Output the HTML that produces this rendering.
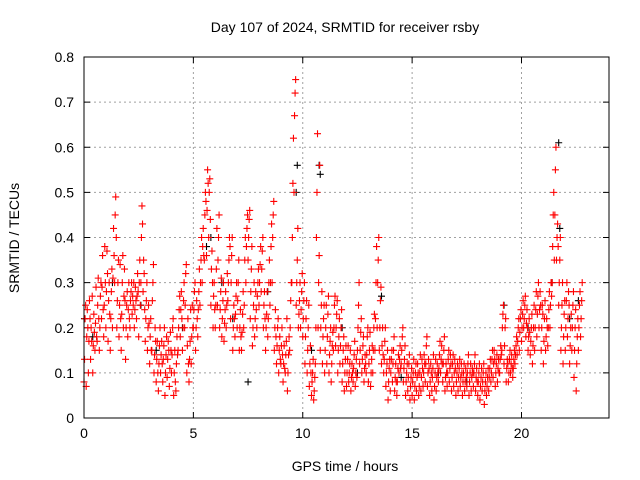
<!DOCTYPE html>
<html><head><meta charset="utf-8"><style>
body{margin:0;background:#fff}
svg{display:block;font-family:"Liberation Sans",sans-serif}
</style></head><body>
<svg id="c" width="640" height="480">
<text x="345" y="32" font-size="14" text-anchor="middle">Day 107 of 2024, SRMTID for receiver rsby</text>
<text x="345" y="471" font-size="14" text-anchor="middle">GPS time / hours</text>
<text transform="translate(19,238) rotate(-90)" font-size="14" text-anchor="middle">SRMTID / TECUs</text>
<g id="grid"></g><g id="axes"></g><g id="black"></g><g id="red"></g>
<rect x="84" y="57" width="525" height="361" fill="none" stroke="#000" stroke-width="1"/>
</svg>
<script>
const xTicks=[0,5,10,15,20];
const yTicks=[0,0.1,0.2,0.3,0.4,0.5,0.6,0.7,0.8];
const yTickLabels=["0","0.1","0.2","0.3","0.4","0.5","0.6","0.7","0.8"];
const slotStart=0.0, slotWidth=0.1;
const redSlots=[
[.08,.13,.22,.25],[.07,.18,.24,.2],[.1,.17,.26,.22],[.13,.2,.17,.27],[.1,.16,.23,.19],[.15,.21,.29,.18],[.17,.25,.31,.22],[.15,.2,.27,.3],[.22,.29,.36,.24],[.18,.25,.38,.3],
[.2,.28,.37,.32],[.17,.26,.3,.23],[.15,.22,.28,.33],[.2,.31,.42,.36],[.3,.45,.49,.4],[.2,.26,.3,.35],[.18,.25,.34,.22],[.15,.23,.3,.36],[.2,.27,.33,.26],[.13,.2,.25,.28],
[.18,.24,.3,.22],[.2,.26,.28,.3],[.23,.27,.25,.3],[.2,.24,.29,.26],[.22,.27,.32,.28],[.18,.3,.35,.25],[.3,.4,.47,.43],[.28,.35,.32,.24],[.17,.22,.26,.3],[.15,.2,.25,.21],
[.12,.18,.22,.15],[.15,.26,.3,.34],[.1,.14,.2,.17],[.08,.13,.17,.1],[.06,.12,.16,.2],[.1,.14,.17,.12],[.08,.13,.16,.2],[.05,.1,.14,.18],[.09,.13,.17,.15],[.07,.11,.19,.15],
[.1,.14,.2,.22],[.05,.1,.15,.08],[.06,.12,.18,.14],[.15,.2,.24,.27],[.18,.24,.28,.22],[.15,.2,.26,.3],[.2,.25,.32,.34],[.1,.16,.22,.12],[.08,.13,.17,.24],[.12,.18,.25,.2],
[.2,.24,.28,.3],[.15,.2,.26,.22],[.18,.24,.28,.33],[.25,.3,.35,.4],[.3,.38,.42,.36],[.35,.45,.5,.48],[.36,.46,.55,.52],[.4,.5,.53,.44],[.25,.33,.37,.3],[.2,.27,.3,.24],
[.2,.25,.33,.42],[.25,.35,.4,.45],[.2,.24,.28,.31],[.18,.22,.26,.3],[.17,.21,.24,.28],[.2,.25,.32,.26],[.3,.35,.4,.38],[.22,.3,.36,.4],[.15,.2,.25,.22],[.18,.23,.27,.3],
[.2,.26,.3,.35],[.15,.2,.24,.18],[.15,.19,.23,.28],[.2,.25,.35,.4],[.3,.38,.42,.45],[.35,.4,.44,.46],[.22,.28,.33,.38],[.16,.2,.25,.3],[.18,.22,.28,.24],[.2,.27,.3,.33],
[.25,.3,.34,.38],[.28,.33,.37,.4],[.2,.25,.28,.22],[.15,.2,.23,.28],[.18,.22,.3,.35],[.25,.3,.38,.43],[.3,.4,.45,.48],[.15,.2,.24,.18],[.12,.16,.2,.22],[.1,.15,.18,.13],
[.12,.16,.2,.14],[.08,.12,.16,.11],[.1,.14,.17,.22],[.06,.1,.14,.18],[.15,.2,.26,.3],[.3,.4,.52,.62],[.5,.67,.72,.75],[.25,.3,.35,.42],[.2,.23,.26,.3],[.2,.24,.28,.32],
[.18,.22,.26,.3],[.12,.18,.22,.26],[.1,.15,.2,.25],[.07,.12,.16,.1],[.05,.08,.1,.13],[.04,.06,.09,.12],[.2,.4,.5,.63],[.2,.3,.36,.56],[.15,.2,.25,.28],[.12,.18,.22,.25],
[.1,.15,.2,.25],[.12,.18,.23,.27],[.1,.14,.17,.2],[.08,.12,.16,.19],[.15,.2,.25,.27],[.16,.2,.23,.26],[.1,.15,.18,.22],[.12,.16,.2,.24],[.08,.12,.15,.18],[.06,.1,.13,.16],
[.07,.1,.13,.16],[.08,.1,.12,.15],[.06,.09,.12,.1],[.08,.11,.14,.17],[.07,.1,.13,.09],[.15,.2,.25,.3],[.12,.15,.19,.22],[.1,.13,.16,.18],[.08,.11,.14,.12],[.1,.14,.18,.2],
[.08,.12,.15,.19],[.07,.1,.13,.16],[.1,.15,.2,.23],[.15,.22,.3,.38],[.2,.3,.35,.4],[.15,.2,.26,.29],[.12,.16,.2,.14],[.1,.13,.17,.2],[.07,.1,.12,.15],[.04,.08,.11,.13],
[.06,.1,.13,.15],[.08,.12,.15,.18],[.06,.09,.12,.08],[.05,.08,.11,.14],[.1,.13,.16,.11],[.12,.15,.18,.2],[.08,.11,.13,.16],[.05,.08,.1,.12],[.06,.09,.12,.14],[.04,.07,.09,.11],
[.05,.08,.1,.13],[.04,.07,.1,.12],[.06,.09,.12,.1],[.05,.07,.1,.14],[.06,.09,.13,.11],[.07,.1,.14,.12],[.08,.12,.16,.18],[.07,.1,.13,.11],[.05,.08,.12,.1],[.06,.09,.11,.14],
[.04,.07,.1,.13],[.06,.09,.12,.1],[.08,.11,.14,.17],[.1,.13,.16,.12],[.08,.12,.15,.18],[.06,.09,.12,.1],[.07,.1,.13,.15],[.08,.11,.14,.12],[.06,.09,.12,.14],[.07,.1,.13,.11],
[.05,.08,.1,.12],[.06,.09,.11,.13],[.07,.09,.12,.1],[.05,.08,.1,.12],[.06,.08,.11,.09],[.07,.1,.12,.14],[.05,.08,.1,.12],[.06,.09,.11,.1],[.07,.1,.12,.14],[.06,.09,.11,.08],
[.05,.08,.1,.12],[.04,.07,.09,.11],[.06,.08,.1,.12],[.03,.06,.08,.1],[.05,.07,.09,.11],[.06,.09,.11,.13],[.08,.1,.13,.15],[.09,.12,.15,.13],[.07,.1,.12,.14],[.08,.11,.13,.1],
[.1,.13,.16,.14],[.15,.2,.23,.25],[.12,.16,.2,.22],[.08,.11,.13,.12],[.08,.1,.13,.15],[.1,.12,.14,.11],[.09,.11,.13,.15],[.12,.14,.16,.18],[.14,.17,.2,.22],[.15,.19,.22,.24],
[.17,.2,.23,.26],[.2,.22,.25,.27],[.18,.21,.24,.2],[.15,.18,.22,.19],[.14,.17,.2,.23],[.12,.16,.2,.25],[.15,.2,.24,.28],[.18,.23,.27,.3],[.2,.24,.28,.25],[.15,.2,.25,.23],
[.12,.17,.22,.26],[.15,.18,.22,.2],[.16,.2,.24,.28],[.2,.25,.3,.27],[.3,.38,.45,.5],[.35,.45,.55,.6],[.35,.4,.43,.38],[.25,.3,.35,.4],[.15,.2,.25,.3],[.12,.18,.23,.26],
[.15,.2,.26,.3],[.18,.22,.28,.25],[.12,.16,.2,.23],[.15,.2,.25,.28],[.09,.15,.2,.24],[.06,.12,.18,.22],[.15,.2,.25,.28],[.18,.22,.26,.3]
];
const blackHours=[0.02,0.4,1.3,2.6,3.3,4.5,5.6,5.8,6.3,6.8,7.5,8.4,9.7,9.75,10.4,10.75,10.8,11.8,12.5,13.6,14.5,16.2,17.5,19.2,20.3,21.4,21.7,21.75,22.2,22.6];
const blackVals=[0.22,0.18,0.3,0.25,0.15,0.2,0.38,0.4,0.3,0.22,0.08,0.28,0.5,0.56,0.15,0.56,0.54,0.2,0.1,0.27,0.09,0.1,0.08,0.25,0.2,0.3,0.61,0.42,0.22,0.26];
const X0=84,X1=609,Y0=418,Y1=57,XMAX=24,YMAX=0.8;
const sx=h=>X0+h/XMAX*(X1-X0), sy=v=>Y0-v/YMAX*(Y0-Y1);
const NS="http://www.w3.org/2000/svg";
const grid=document.getElementById('grid'),axes=document.getElementById('axes');
function mk(tag,attrs,parent){const e=document.createElementNS(NS,tag);for(const k in attrs)e.setAttribute(k,attrs[k]);parent.appendChild(e);return e;}
xTicks.forEach(t=>{const x=sx(t);
 if(t>0){const g=mk('line',{x1:x,x2:x,y1:Y1,y2:Y0,stroke:'#a0a0a0','stroke-dasharray':'2,3'},grid);
 
 }
 mk('line',{x1:x,x2:x,y1:Y0,y2:Y0-6,stroke:'#000'},axes);mk('line',{x1:x,x2:x,y1:Y1,y2:Y1+6,stroke:'#000'},axes);
 const l=mk('text',{x:x,y:Y0+20,'font-size':14,'text-anchor':'middle'},axes);l.textContent=t;
 
 });
yTicks.forEach((t,i)=>{const y=sy(t);
 if(t>0&&t<YMAX){const g=mk('line',{x1:X0,x2:X1,y1:y,y2:y,stroke:'#a0a0a0','stroke-dasharray':'2,3'},grid);
 
 }
 mk('line',{x1:X0,x2:X0+6,y1:y,y2:y,stroke:'#000'},axes);mk('line',{x1:X1,x2:X1-6,y1:y,y2:y,stroke:'#000'},axes);
 const l=mk('text',{x:X0-10,y:y+5,'font-size':14,'text-anchor':'end'},axes);l.textContent=yTickLabels[i];
 
 });
function plus(h,v,col,parent){const x=sx(h),y=sy(v);
 const p=mk('path',{d:`M${x-3.5},${y}h7M${x},${y-3.5}v7`,stroke:col,'stroke-width':1.1,fill:'none'},parent);
 
 }
const bg=document.getElementById('black');
blackHours.forEach((h,i)=>plus(h,blackVals[i],'#000',bg));
const rg=document.getElementById('red');
redSlots.forEach((vals,i)=>{vals.forEach((v,j)=>{plus(slotStart+i*slotWidth+j*slotWidth/vals.length,v,'#ff0000',rg);});});
</script>
</body></html>
